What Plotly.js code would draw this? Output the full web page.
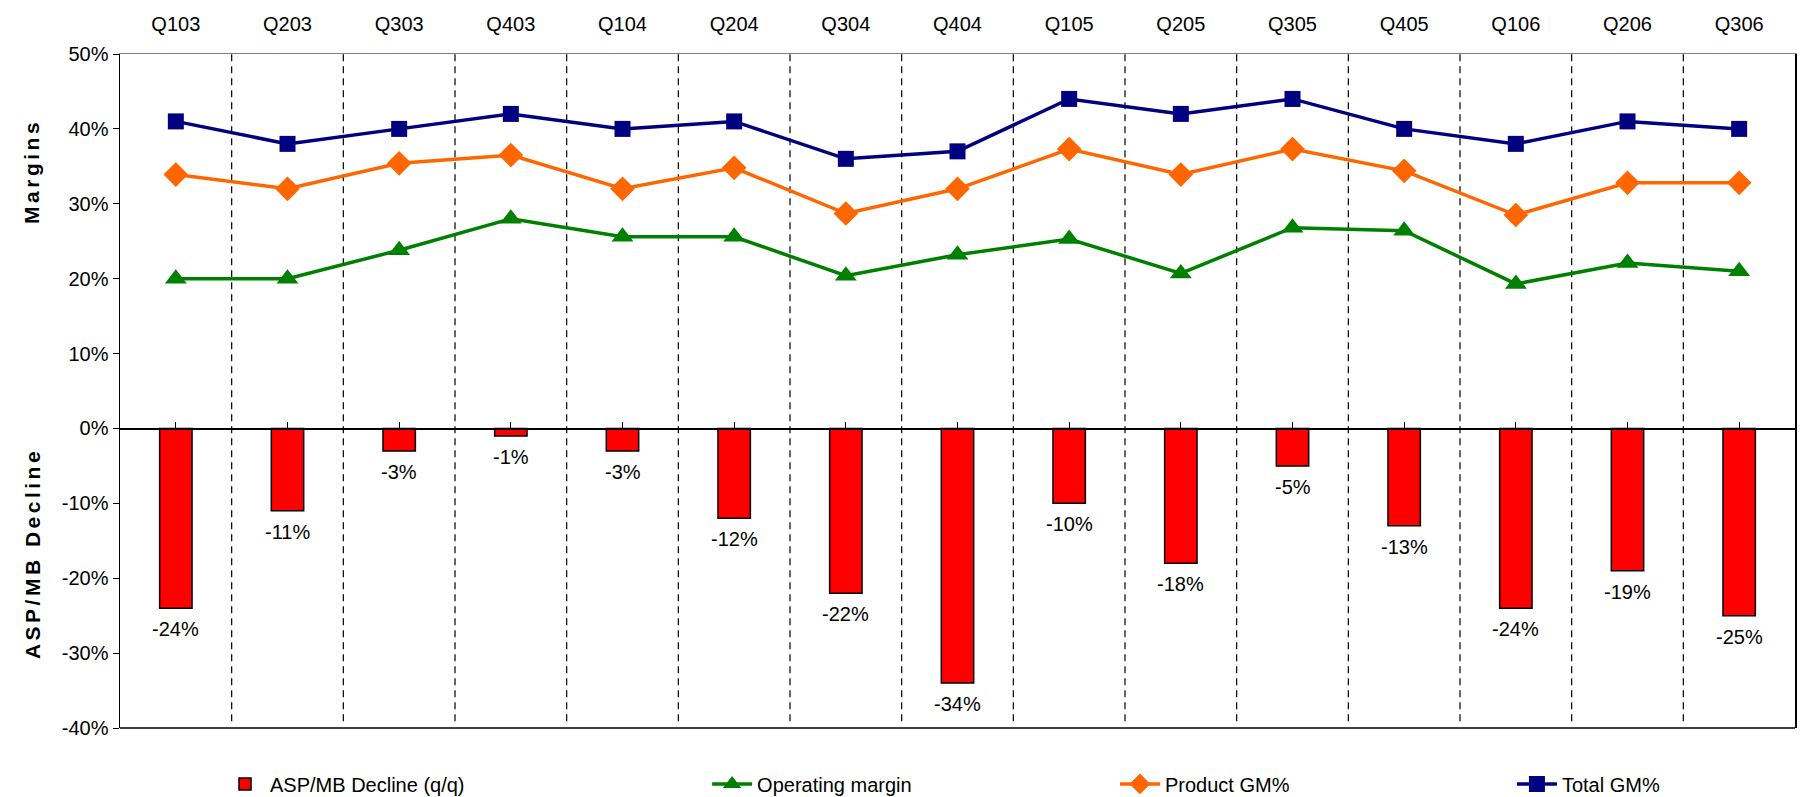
<!DOCTYPE html>
<html>
<head>
<meta charset="utf-8">
<script src="https://cdn.plot.ly/plotly-3.0.1.min.js"></script>
<style>
  html, body { margin: 0; padding: 0; background: #ffffff; }
  #chart { width: 1801px; height: 797px; }
</style>
</head>
<body>
<div id="chart"></div>
<script>
// Quarterly categories (shown along the top edge)
const quarters = ['Q103','Q203','Q303','Q403','Q104','Q204','Q304','Q404','Q105','Q205','Q305','Q405','Q106','Q206','Q306'];

// Quarter-over-quarter ASP/MB decline, in percent
const aspDecline = [-24, -11, -3, -1, -3, -12, -22, -34, -10, -18, -5, -13, -24, -19, -25];

// Margin series, in percent
const operatingMargin = [20, 20, 23.8, 28, 25.6, 25.6, 20.4, 23.2, 25.3, 20.7, 26.8, 26.4, 19.3, 22.1, 21];
const productGM = [33.9, 32, 35.4, 36.5, 32, 34.8, 28.7, 32, 37.3, 33.9, 37.3, 34.4, 28.5, 32.8, 32.8];
const totalGM = [41, 38, 40, 42, 40, 41, 36, 37, 44, 42, 44, 40, 38, 41, 40];

// Value axis ticks
const yTickVals = [-40, -30, -20, -10, 0, 10, 20, 30, 40, 50];
const yTickText = ['-40%', '-30%', '-20%', '-10%', '0%', '10%', '20%', '30%', '40%', '50%'];

const sans = '"Liberation Sans", Arial, sans-serif';
const labelSize = 20;

const traces = [
  {
    type: 'bar',
    name: 'ASP/MB Decline (q/q)',
    legend: 'legend',
    x: quarters,
    y: aspDecline,
    width: 0.29,
    marker: { color: '#FF0000', line: { color: '#000000', width: 1.5 } },
    hoverinfo: 'x+y'
  },
  {
    type: 'scatter',
    mode: 'lines+markers',
    name: 'Operating margin',
    legend: 'legend2',
    x: quarters,
    y: operatingMargin,
    line: { color: '#008000', width: 3.5 },
    marker: { symbol: 'triangle-up', size: 19, color: '#008000' }
  },
  {
    type: 'scatter',
    mode: 'lines+markers',
    name: 'Product GM%',
    legend: 'legend3',
    x: quarters,
    y: productGM,
    line: { color: '#FF6600', width: 3.5 },
    marker: { symbol: 'diamond', size: 19, color: '#FF6600' }
  },
  {
    type: 'scatter',
    mode: 'lines+markers',
    name: 'Total GM%',
    legend: 'legend4',
    x: quarters,
    y: totalGM,
    line: { color: '#000080', width: 3.5 },
    marker: { symbol: 'square', size: 16, color: '#000080' }
  },
  // Empty trace on the zero-line axis so its ticks get drawn
  {
    type: 'scatter', mode: 'markers',
    x: quarters, y: aspDecline.map(() => null),
    xaxis: 'x2', showlegend: false, hoverinfo: 'skip'
  }
];

// Dashed separators between neighbouring quarters
const shapes = [];
for (let i = 0; i < quarters.length - 1; i++) {
  shapes.push({
    type: 'line', xref: 'x', yref: 'paper',
    x0: i + 0.5, x1: i + 0.5, y0: 0.01, y1: 1,
    line: { color: '#000000', width: 1.2, dash: '7px,5px' },
    layer: 'below'
  });
}
// Bottom frame edge
shapes.push({
  type: 'line', xref: 'paper', yref: 'paper',
  x0: 0, x1: 1, y0: 0, y1: 0,
  line: { color: '#000000', width: 1.5 }
});

// Value labels under each bar
const annotations = quarters.map((q, i) => ({
  x: q, y: aspDecline[i], xref: 'x', yref: 'y',
  text: aspDecline[i] + '%',
  showarrow: false, xanchor: 'center', yanchor: 'top', yshift: -8,
  font: { family: sans, size: labelSize, color: '#000000' }
}));

// Rotated axis captions
annotations.push(
  {
    text: '<span style="letter-spacing:3.5px">Margins</span>',
    xref: 'paper', yref: 'paper', x: 0, y: 0.825,
    xshift: -88, textangle: -90, showarrow: false,
    xanchor: 'center', yanchor: 'middle',
    font: { family: sans, size: 21, color: '#000000', weight: 'bold' }
  },
  {
    text: '<span style="letter-spacing:3.5px">ASP/MB Decline</span>',
    xref: 'paper', yref: 'paper', x: 0, y: 0.258,
    xshift: -88, textangle: -90, showarrow: false,
    xanchor: 'center', yanchor: 'middle',
    font: { family: sans, size: 21, color: '#000000', weight: 'bold' }
  }
);

const legendBase = {
  orientation: 'h',
  xanchor: 'left',
  y: -0.083,
  yanchor: 'middle',
  itemwidth: 40,
  font: { family: sans, size: labelSize, color: '#000000' },
  bgcolor: 'rgba(0,0,0,0)'
};

const layout = {
  width: 1801,
  height: 797,
  margin: { l: 120, r: 6, t: 54, b: 69, autoexpand: false },
  paper_bgcolor: '#ffffff',
  plot_bgcolor: '#ffffff',
  showlegend: true,
  xaxis: {
    type: 'category',
    side: 'top',
    showline: true,
    linecolor: '#808080',
    linewidth: 1.5,
    ticks: 'outside',
    ticklen: 14,
    tickcolor: 'rgba(0,0,0,0)',
    showgrid: false,
    zeroline: false,
    tickfont: { family: sans, size: labelSize, color: '#000000' },
    range: [-0.5, quarters.length - 0.5]
  },
  xaxis2: {
    type: 'category',
    overlaying: 'x',
    matches: 'x',
    anchor: 'free',
    side: 'top',
    position: (0 - (-40)) / 90,
    showline: true,
    linecolor: '#000000',
    linewidth: 1.5,
    ticks: 'outside',
    ticklen: 6,
    tickcolor: '#000000',
    showticklabels: false,
    showgrid: false,
    zeroline: false
  },
  yaxis: {
    range: [-40, 50],
    tickvals: yTickVals,
    ticktext: yTickText,
    showline: true,
    mirror: true,
    linecolor: '#000000',
    linewidth: 1.5,
    ticks: 'outside',
    ticklen: 6,
    tickcolor: '#000000',
    showgrid: false,
    zeroline: false,
    tickfont: { family: sans, size: labelSize, color: '#000000' }
  },
  legend: Object.assign({}, legendBase, { x: 0.0597 }),
  legend2: Object.assign({}, legendBase, { x: 0.3505 }),
  legend3: Object.assign({}, legendBase, { x: 0.5940 }),
  legend4: Object.assign({}, legendBase, { x: 0.8310 }),
  annotations: annotations,
  shapes: shapes
};

Plotly.newPlot('chart', traces, layout, { displayModeBar: false, staticPlot: true });
</script>
</body>
</html>
